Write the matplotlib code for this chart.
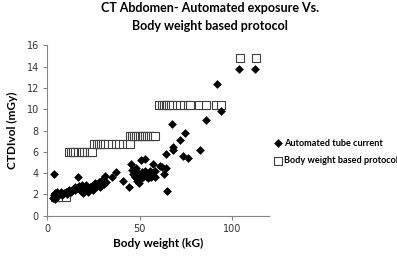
import matplotlib.pyplot as plt

# Automated tube current (diamonds)
auto_weight = [3, 3.5, 4, 4, 5, 5.5, 6, 7, 7.5, 8, 9, 10, 10.5, 11, 12, 13, 14, 15, 15,
               16, 16.5, 17, 17.5, 18, 18.5, 19, 19.5, 20, 20.5, 21, 22, 22.5, 23, 24,
               24.5, 25, 26, 27, 28, 28.5, 29, 30, 30.5, 31, 32, 3.7, 35, 37, 41, 44,
               45.5, 46, 46.5, 47, 47.5, 48, 48.5, 49, 49.5, 50, 50.5, 51, 51.5, 52,
               52.5, 53, 53, 53.5, 54, 54.5, 55, 55.5, 56, 56.5, 57, 57, 58, 58.5, 61,
               62, 63, 64, 64, 65, 67.5, 68, 68, 72, 73.5, 74.5, 76, 82.5, 85.7, 92, 94,
               103.5, 112.5]
auto_ctdi = [1.7, 1.9, 1.6, 2.1, 1.8, 2.2, 1.9, 2.0, 2.2, 1.9, 2.1, 2.2, 2.0, 2.3, 2.4,
             2.2, 2.5, 2.7, 2.4, 2.6, 3.6, 2.8, 2.5, 2.3, 2.7, 2.9, 2.1, 2.3, 2.6, 2.9,
             2.2, 2.5, 2.7, 2.8, 2.4, 2.9, 3.1, 2.8, 3.2, 2.7, 3.0, 3.4, 3.0, 3.7, 3.2,
             3.9, 3.6, 4.1, 3.3, 2.7, 4.9, 4.3, 3.9, 4.2, 3.6, 4.5, 3.3, 4.0, 3.1, 3.4,
             5.2, 3.8, 4.1, 3.6, 3.9, 5.3, 4.2, 3.7, 4.0, 3.5, 3.9, 4.2, 3.6, 4.0, 4.9,
             3.8, 3.6, 4.2, 4.7, 4.6, 3.9, 4.5, 5.8, 2.3, 8.6, 6.5, 6.2, 7.1, 5.6, 7.8,
             5.4, 6.2, 9.0, 12.4, 9.8, 13.8, 13.8]

# Body weight based protocol (squares)
bw_weight = [4, 6, 8, 10,
             11.5, 13, 14, 15, 16.5, 18, 19, 20, 21.5, 23, 24,
             25.5, 27, 28, 29, 30, 31.5, 33, 35, 37, 39, 41, 43, 44.5,
             45, 46, 47, 48, 49, 50, 51, 52, 53, 54, 55, 56, 57, 58,
             60.5, 62, 63, 64, 65, 66, 67, 68, 70, 72, 74, 76, 77, 82, 86, 91, 94,
             104, 113]
bw_ctdi = [1.75] * 4 + [5.95] * 11 + [6.7] * 13 + [7.45] * 14 + [10.36] * 17 + [14.85] * 2

fig = plt.figure(figsize=(3.97, 2.57), dpi=100)
ax = fig.add_axes([0.119, 0.161, 0.559, 0.662])

ax.scatter(auto_weight, auto_ctdi, marker='D', s=20, color='black', linewidths=0,
           label='Automated tube current', zorder=3)
ax.scatter(bw_weight, bw_ctdi, marker='s', s=30, facecolor='white', edgecolor='#404040',
           linewidths=0.8, label='Body weight based protocol', zorder=2)

ax.set_xlim(0, 120)
ax.set_ylim(0, 16)
ax.set_xticks([0, 50, 100])
ax.set_yticks(range(0, 17, 2))
for s in ['top', 'right']:
    ax.spines[s].set_visible(False)
for s in ['left', 'bottom']:
    ax.spines[s].set_color('#868686')
    ax.spines[s].set_linewidth(0.8)
ax.tick_params(length=3, width=0.8, color='#868686', labelsize=7, labelcolor='#333333', pad=3)

ax.set_xlabel('Body weight (kG)', family='Lato', fontweight='bold', fontsize=8.5, labelpad=3)
ax.set_ylabel('CTDIvol (mGy)', family='Lato', fontweight='bold', fontsize=8.5, labelpad=6)

fig.text(0.53, 0.935, 'CT Abdomen- Automated exposure Vs.\nBody weight based protocol',
         ha='center', va='center', family='Lato', fontweight='bold', fontsize=9,
         linespacing=1.6)

fig.legend(loc='upper left', bbox_to_anchor=(0.68, 0.475), frameon=False,
           prop={'family': 'Lato', 'weight': 'bold', 'size': 6.6},
           handletextpad=0.1, labelspacing=0.95, borderaxespad=0, handlelength=1.0)

fig.savefig('out.png', dpi=100)
